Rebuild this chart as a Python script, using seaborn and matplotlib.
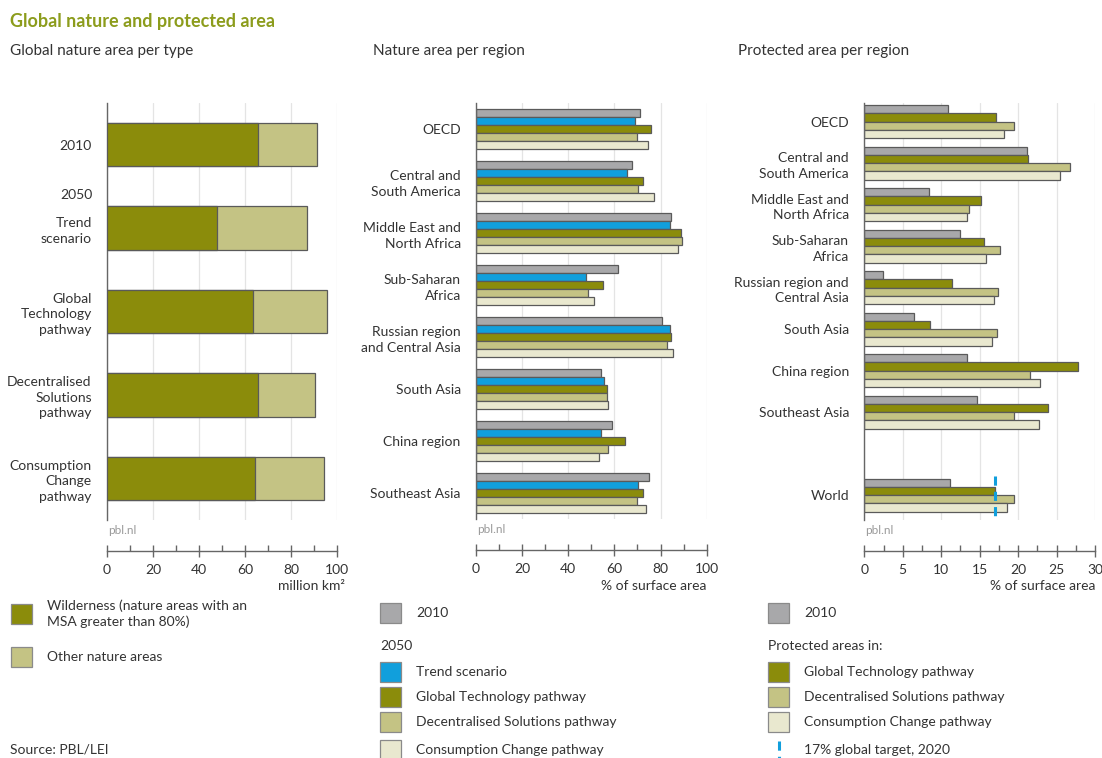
"""
Global nature and protected area, three horizontal bar panels.
"""

import matplotlib.pyplot as plt
import matplotlib.patches as mpatches
from matplotlib.lines import Line2D
from matplotlib.ticker import MultipleLocator
import pandas as pd
import seaborn as sns

# ── Style ─────────────────────────────────────────────────────────────────────
sns.set_theme(style="white")
plt.rcParams["font.family"] = ["Lato", "DejaVu Sans"]

GRAY  = "#a8a8aa"
BLUE  = "#119fdc"
DARK  = "#8b8c0b"
MID   = "#c4c384"
PALE  = "#e9e8cf"
EDGE  = "#5a5a5a"
TEXT  = "#333333"
TITLE = "#8c9c1c"

W, H = 1102, 758

# ── Data ──────────────────────────────────────────────────────────────────────
# Panel 1: global nature area per type (million km2)
p1_cases = ["2010", "Trend", "Global Technology", "Decentralised Solutions", "Consumption Change"]
p1_labels = ["2010", "Trend\nscenario", "Global\nTechnology\npathway",
             "Decentralised\nSolutions\npathway", "Consumption\nChange\npathway"]
wilderness = [65.5, 48.0, 63.3, 65.6, 64.2]
total_nature = [91.2, 87.0, 95.5, 90.6, 94.5]

# Panel 2: nature area per region (% of surface area)
regions = ["OECD", "Central and South America", "Middle East and North Africa",
           "Sub-Saharan Africa", "Russian region and Central Asia", "South Asia",
           "China region", "Southeast Asia"]
p2_labels = ["OECD", "Central and\nSouth America", "Middle East and\nNorth Africa",
             "Sub-Saharan\nAfrica", "Russian region\nand Central Asia", "South Asia",
             "China region", "Southeast Asia"]
nat_2010  = [71.1, 67.5, 84.5, 61.6, 80.5, 54.2, 59.1, 75.1]
nat_trend = [68.9, 65.3, 84.1, 47.8, 84.1, 55.3, 54.0, 70.2]
nat_gt    = [75.7, 72.3, 88.7, 55.1, 84.5, 56.8, 64.7, 72.5]
nat_ds    = [69.9, 70.4, 89.3, 48.4, 82.7, 56.6, 57.4, 69.9]
nat_cc    = [74.7, 77.3, 87.7, 51.0, 85.5, 57.2, 53.3, 73.7]

# Panel 3: protected area per region (% of surface area)
p3_regions = regions + ["World"]
p3_labels = ["OECD", "Central and\nSouth America", "Middle East and\nNorth Africa",
             "Sub-Saharan\nAfrica", "Russian region and\nCentral Asia", "South Asia",
             "China region", "Southeast Asia", "", "World"]
prot_2010 = [10.9, 21.2, 8.4, 12.4, 2.4, 6.5, 13.4, 14.7, 11.2]
prot_gt   = [17.1, 21.3, 15.2, 15.6, 11.4, 8.5, 27.8, 23.9, 17.0]
prot_ds   = [19.5, 26.7, 13.6, 17.7, 17.4, 17.3, 21.6, 19.5, 19.5]
prot_cc   = [18.2, 25.4, 13.3, 15.8, 16.9, 16.6, 22.9, 22.7, 18.6]
TARGET = 17

series2 = ["2010", "Trend scenario", "Global Technology pathway",
           "Decentralised Solutions pathway", "Consumption Change pathway"]
series3 = ["2010", "Global Technology pathway",
           "Decentralised Solutions pathway", "Consumption Change pathway"]
palette = dict(zip(series2, [GRAY, BLUE, DARK, MID, PALE]))

# ── Long-form tables ──────────────────────────────────────────────────────────
df1 = pd.DataFrame({"case": p1_cases, "wild": wilderness, "total": total_nature})

df2 = pd.concat([
    pd.DataFrame({"region": regions, "series": s, "value": v})
    for s, v in zip(series2, [nat_2010, nat_trend, nat_gt, nat_ds, nat_cc])
], ignore_index=True)

df3 = pd.concat([
    pd.DataFrame({"region": p3_regions, "series": s, "value": v})
    for s, v in zip(series3, [prot_2010, prot_gt, prot_ds, prot_cc])
], ignore_index=True)


def px_box(x0, x1, y0, y1):
    return [x0 / W, 1 - y1 / H, (x1 - x0) / W, (y1 - y0) / H]


def style_axis(ax, xmax, major, xlabel, xlabel_x):
    ax.set_xlim(0, xmax)
    ax.xaxis.set_major_locator(MultipleLocator(major))
    ax.xaxis.set_minor_locator(MultipleLocator(major / 2))
    ax.grid(axis="x", which="major", color="#e4e4e4", lw=0.9, zorder=0)
    ax.set_axisbelow(True)
    for side in ("top", "right"):
        ax.spines[side].set_visible(False)
    ax.spines["left"].set_color("#666666")
    ax.spines["left"].set_linewidth(1.0)
    ax.spines["bottom"].set_position(("outward", 22))
    ax.spines["bottom"].set_color("#666666")
    ax.spines["bottom"].set_linewidth(1.0)
    ax.tick_params(axis="x", which="major", direction="inout", length=8, width=1,
                   color="#666666", labelsize=10, labelcolor=TEXT, pad=6, bottom=True)
    ax.tick_params(axis="x", which="minor", direction="in", length=4, width=1,
                   color="#666666", bottom=True)
    ax.tick_params(axis="y", length=0, pad=11, labelsize=10, labelcolor=TEXT)
    ax.set_xlabel("")
    ax.set_ylabel("")
    fig.text(xlabel_x / W, 1 - 586 / H, xlabel, ha="right", va="center",
             fontsize=10, color=TEXT)
    ax.text(0.005, -0.012, "pbl.nl", transform=ax.transAxes, ha="left", va="top",
            fontsize=8.5, color="#9a9a9a")


fig = plt.figure(figsize=(W / 100, H / 100), dpi=100)

# ── Panel 1 ───────────────────────────────────────────────────────────────────
ax1 = fig.add_axes(px_box(107, 337, 103, 520))
sns.barplot(data=df1, x="total", y="case", order=p1_cases, color=MID, saturation=1,
            width=0.52, edgecolor=EDGE, linewidth=0.9, orient="h", ax=ax1, zorder=2)
sns.barplot(data=df1, x="wild", y="case", order=p1_cases, color=DARK, saturation=1,
            width=0.52, edgecolor=EDGE, linewidth=0.9, orient="h", ax=ax1, zorder=3)
ax1.set_ylim(4.5, -0.5)
ax1.set_yticks(range(len(p1_labels)))
ax1.set_yticklabels(p1_labels, linespacing=1.35)
ax1.text(-0.063, 0.6, "2050", transform=ax1.get_yaxis_transform(),
         ha="right", va="center", fontsize=10, color=TEXT)
style_axis(ax1, 100, 20, "million km²", 345)

# ── Panel 2 ───────────────────────────────────────────────────────────────────
ax2 = fig.add_axes(px_box(476, 706.7, 103, 519))
sns.barplot(data=df2, x="value", y="region", hue="series", order=regions,
            hue_order=series2, palette=palette, saturation=1, width=0.77,
            edgecolor=EDGE, linewidth=0.9, orient="h", legend=False, ax=ax2, zorder=2)
ax2.set_ylim(7.5, -0.5)
ax2.set_yticks(range(len(p2_labels)))
ax2.set_yticklabels(p2_labels, linespacing=1.35)
style_axis(ax2, 100, 20, "% of surface area", 706)

# ── Panel 3 ───────────────────────────────────────────────────────────────────
p3_order = regions + [" ", "World"]
ax3 = fig.add_axes(px_box(864.3, 1095, 103, 520))
sns.barplot(data=df3, x="value", y="region", hue="series", order=p3_order,
            hue_order=series3, palette=palette, saturation=1, width=0.8,
            edgecolor=EDGE, linewidth=0.9, orient="h", legend=False, ax=ax3, zorder=2)
ax3.vlines(TARGET, 8.55, 9.6, colors=BLUE, linestyles=(0, (3, 2)), lw=2.2, zorder=4)
ax3.set_ylim(9.6, -0.45)
ax3.set_yticks(range(len(p3_labels)))
ax3.set_yticklabels(p3_labels, linespacing=1.35)
style_axis(ax3, 30, 5, "% of surface area", 1095)

# ── Titles ────────────────────────────────────────────────────────────────────
fig.text(10 / W, 1 - 22 / H, "Global nature and protected area", fontsize=13,
         fontweight="bold", color=TITLE, ha="left", va="center")
for x, t in [(10, "Global nature area per type"), (373, "Nature area per region"),
             (738, "Protected area per region")]:
    fig.text(x / W, 1 - 51 / H, t, fontsize=11, color=TEXT, ha="left", va="center")
fig.text(10 / W, 1 - 750 / H, "Source: PBL/LEI", fontsize=10, color=TEXT,
         ha="left", va="center")


# ── Legends (drawn in pixel layout) ───────────────────────────────────────────
def swatch(x, y, color, label):
    fig.add_artist(mpatches.Rectangle((x / W, 1 - (y + 10) / H), 21 / W, 20 / H,
                                      transform=fig.transFigure, facecolor=color,
                                      edgecolor="#8a8a8a", lw=0.9))
    fig.text((x + 36) / W, 1 - y / H, label, fontsize=10, color=TEXT,
             ha="left", va="center", linespacing=1.35)


swatch(11, 614, DARK, "Wilderness (nature areas with an\nMSA greater than 80%)")
swatch(11, 657, MID, "Other nature areas")

swatch(380, 613, GRAY, "2010")
fig.text(380 / W, 1 - 646 / H, "2050", fontsize=10, color=TEXT, va="center")
for y, s in zip([672, 697, 722, 750], series2[1:]):
    swatch(380, y, palette[s], s)

swatch(768, 613, GRAY, "2010")
fig.text(768 / W, 1 - 646 / H, "Protected areas in:", fontsize=10, color=TEXT,
         va="center")
for y, s in zip([672, 697, 722], series3[1:]):
    swatch(768, y, palette[s], s)
fig.add_artist(Line2D([779 / W, 779 / W], [1 - 741 / H, 1 - 758 / H],
                      transform=fig.transFigure, color=BLUE, lw=2.2,
                      linestyle=(0, (3, 2))))
fig.text(804 / W, 1 - 750 / H, "17% global target, 2020", fontsize=10, color=TEXT,
         ha="left", va="center")

fig.savefig("out.png", dpi=100)
plt.close()
